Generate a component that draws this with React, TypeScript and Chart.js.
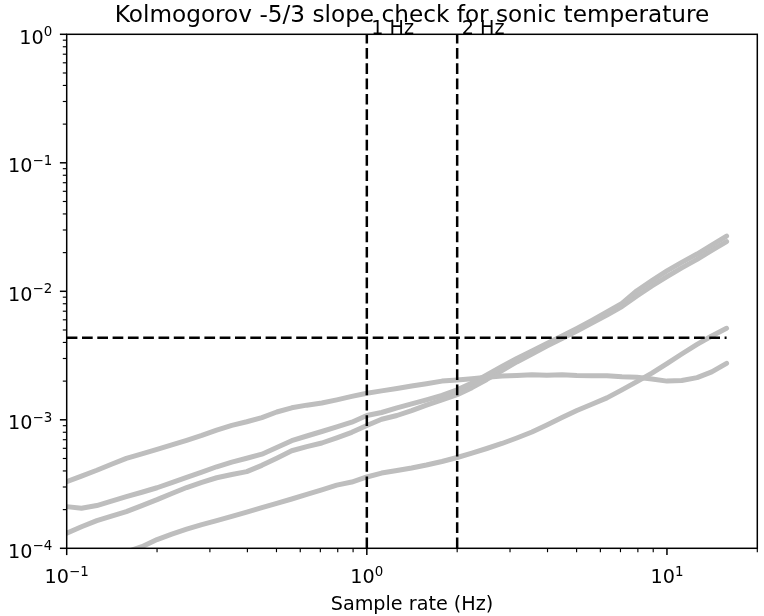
import React, { useEffect, useRef } from 'react';
import { Chart, registerables } from 'chart.js';

Chart.register(...registerables);

// ---------- data ----------
const freqs = [
  0.1, 0.112, 0.126, 0.141, 0.158, 0.178, 0.2, 0.224, 0.251, 0.282,
  0.316, 0.355, 0.398, 0.447, 0.501, 0.562, 0.631, 0.708, 0.794, 0.891,
  1.0, 1.12, 1.26, 1.41, 1.58, 1.78, 2.0, 2.24, 2.51, 2.82,
  3.16, 3.55, 3.98, 4.47, 5.01, 5.62, 6.31, 7.08, 7.94, 8.91,
  10.0, 11.2, 12.6, 14.1, 15.8,
];

const seriesA = [
  3.30e-4, 3.65e-4, 4.05e-4, 4.51e-4, 5.01e-4, 5.43e-4, 5.89e-4, 6.38e-4, 6.92e-4, 7.56e-4,
  8.30e-4, 9.04e-4, 9.66e-4, 1.04e-3, 1.15e-3, 1.24e-3, 1.30e-3, 1.35e-3, 1.43e-3, 1.52e-3,
  1.61e-3, 1.68e-3, 1.75e-3, 1.83e-3, 1.91e-3, 2.00e-3, 2.04e-3, 2.09e-3, 2.14e-3, 2.19e-3,
  2.21e-3, 2.24e-3, 2.22e-3, 2.24e-3, 2.21e-3, 2.20e-3, 2.20e-3, 2.16e-3, 2.14e-3, 2.08e-3,
  2.00e-3, 2.02e-3, 2.13e-3, 2.36e-3, 2.75e-3,
];

const seriesB = [
  2.11e-4, 2.05e-4, 2.15e-4, 2.33e-4, 2.52e-4, 2.73e-4, 2.96e-4, 3.25e-4, 3.57e-4, 3.92e-4,
  4.31e-4, 4.69e-4, 5.02e-4, 5.40e-4, 6.09e-4, 6.88e-4, 7.48e-4, 8.11e-4, 8.80e-4, 9.58e-4,
  1.08e-3, 1.14e-3, 1.24e-3, 1.33e-3, 1.43e-3, 1.55e-3, 1.71e-3, 1.93e-3, 2.23e-3, 2.60e-3,
  3.00e-3, 3.43e-3, 3.93e-3, 4.49e-3, 5.14e-3, 5.93e-3, 6.90e-3, 8.04e-3, 1.01e-2, 1.21e-2,
  1.44e-2, 1.68e-2, 1.95e-2, 2.29e-2, 2.69e-2,
];

const seriesC = [
  1.31e-4, 1.47e-4, 1.64e-4, 1.78e-4, 1.93e-4, 2.15e-4, 2.39e-4, 2.67e-4, 2.97e-4, 3.26e-4,
  3.54e-4, 3.75e-4, 3.95e-4, 4.42e-4, 5.02e-4, 5.74e-4, 6.18e-4, 6.60e-4, 7.24e-4, 7.99e-4,
  9.03e-4, 1.01e-3, 1.08e-3, 1.18e-3, 1.30e-3, 1.43e-3, 1.57e-3, 1.78e-3, 2.06e-3, 2.42e-3,
  2.82e-3, 3.25e-3, 3.75e-3, 4.29e-3, 4.91e-3, 5.67e-3, 6.54e-3, 7.61e-3, 9.19e-3, 1.10e-2,
  1.30e-2, 1.52e-2, 1.77e-2, 2.08e-2, 2.44e-2,
];

const seriesD = [
  6.20e-5, 6.90e-5, 7.68e-5, 8.48e-5, 9.36e-5, 1.03e-4, 1.17e-4, 1.29e-4, 1.41e-4, 1.53e-4,
  1.64e-4, 1.77e-4, 1.91e-4, 2.07e-4, 2.24e-4, 2.42e-4, 2.63e-4, 2.85e-4, 3.10e-4, 3.28e-4,
  3.59e-4, 3.85e-4, 4.03e-4, 4.22e-4, 4.45e-4, 4.74e-4, 5.09e-4, 5.51e-4, 5.98e-4, 6.54e-4,
  7.22e-4, 8.04e-4, 9.11e-4, 1.04e-3, 1.18e-3, 1.32e-3, 1.48e-3, 1.71e-3, 1.98e-3, 2.31e-3,
  2.74e-3, 3.25e-3, 3.86e-3, 4.49e-3, 5.15e-3,
];

const spectra = [seriesA, seriesB, seriesC, seriesD];

const hLineLevel = 4.35e-3;
const vLines = [1, 2];
const vLineLabels = ['1 Hz', '2 Hz'];

const xMin = 0.1;
const xMax = 20;
const yMin = 1e-4;
const yMax = 1;

const xMajorTicks = [0.1, 1, 10];
const xTickExps = ['\u22121', '0', '1'];
const yMajorTicks = [1e-4, 1e-3, 1e-2, 1e-1, 1];
const yTickExps = ['\u22124', '\u22123', '\u22122', '\u22121', '0'];

const titleText = 'Kolmogorov -5/3 slope check for sonic temperature';
const xLabelText = 'Sample rate (Hz)';

// ---------- styling ----------
const FONT = '"DejaVu Sans", sans-serif';
const TICK_PX = 19.2;
const SUP_PX = 13.4;
const SUP_RAISE = 7.7;
const TITLE_PX = 23.2;
const MAJOR_LEN = 6.8;
const MINOR_LEN = 3.9;

function drawPow(ctx: CanvasRenderingContext2D, exp: string, x: number, baseline: number, align: 'center' | 'right') {
  const main = `${TICK_PX}px ${FONT}`;
  const sup = `${SUP_PX}px ${FONT}`;
  ctx.font = main;
  const wb = ctx.measureText('10').width;
  ctx.font = sup;
  const we = ctx.measureText(exp).width;
  const total = wb + we;
  const x0 = align === 'center' ? x - total / 2 : x - total;
  ctx.textAlign = 'left';
  ctx.textBaseline = 'alphabetic';
  ctx.font = main;
  ctx.fillText('10', x0, baseline);
  ctx.font = sup;
  ctx.fillText(exp, x0 + wb, baseline - SUP_RAISE);
}

const mplAxes = {
  id: 'mplAxes',
  afterDraw(chart: any) {
    const ctx: CanvasRenderingContext2D = chart.ctx;
    const { left, top, right, bottom } = chart.chartArea;
    const xs = chart.scales.x;
    const ys = chart.scales.y;
    ctx.save();
    ctx.fillStyle = '#000';
    ctx.strokeStyle = '#000';

    // frame
    ctx.lineWidth = 1.5;
    ctx.strokeRect(left, top, right - left, bottom - top);

    const line = (x1: number, y1: number, x2: number, y2: number, w: number) => {
      ctx.lineWidth = w;
      ctx.beginPath();
      ctx.moveTo(x1, y1);
      ctx.lineTo(x2, y2);
      ctx.stroke();
    };
    // x ticks
    xMajorTicks.forEach((t) => {
      const px = xs.getPixelForValue(t);
      line(px, bottom, px, bottom + MAJOR_LEN, 1.5);
      for (let m = 2; m <= 9; m++) {
        const v = t * m;
        if (v <= xMax * 1.0001) {
          const pm = xs.getPixelForValue(v);
          line(pm, bottom, pm, bottom + MINOR_LEN, 1.15);
        }
      }
    });
    // y ticks
    yMajorTicks.forEach((t) => {
      const py = ys.getPixelForValue(t);
      line(left - MAJOR_LEN, py, left, py, 1.5);
      if (t < yMax) {
        for (let m = 2; m <= 9; m++) {
          const pm = ys.getPixelForValue(t * m);
          line(left - MINOR_LEN, pm, left, pm, 1.15);
        }
      }
    });

    // tick labels
    xMajorTicks.forEach((t, i) => {
      drawPow(ctx, xTickExps[i], xs.getPixelForValue(t), bottom + 35, 'center');
    });
    yMajorTicks.forEach((t, i) => {
      drawPow(ctx, yTickExps[i], left - 14.5, ys.getPixelForValue(t) + 9.5, 'right');
    });

    // vertical line labels
    ctx.font = `${TICK_PX}px ${FONT}`;
    ctx.textAlign = 'left';
    ctx.textBaseline = 'alphabetic';
    vLines.forEach((v, i) => {
      ctx.fillText(vLineLabels[i], xs.getPixelForValue(v * 1.035), ys.getPixelForValue(yMax) - 0.5);
    });

    // title
    ctx.font = `${TITLE_PX}px ${FONT}`;
    ctx.textAlign = 'center';
    ctx.fillText(titleText, (left + right) / 2, 22);

    // x label
    ctx.font = `${TICK_PX}px ${FONT}`;
    ctx.fillText(xLabelText, (left + right) / 2, 610);

    ctx.restore();
  },
};

export default function App() {
  const ref = useRef<HTMLCanvasElement>(null);

  useEffect(() => {
    const canvas = ref.current;
    if (!canvas) return;
    const toPoints = (ys: number[]) => freqs.map((f, i) => ({ x: f, y: ys[i] }));
    const grayStyle = {
      borderColor: '#bebebe',
      backgroundColor: '#bebebe',
      borderWidth: 5,
      pointRadius: 0,
      showLine: true,
      fill: false,
      clip: 0,
      order: 1,
      tension: 0,
      borderJoinStyle: 'round' as const,
      borderCapStyle: 'round' as const,
    };
    const dashStyle = {
      borderColor: '#000000',
      backgroundColor: '#000000',
      borderWidth: 2.5,
      borderDash: [10.7, 4.6],
      pointRadius: 0,
      showLine: true,
      fill: false,
      clip: 0,
      order: 0,
    };
    const chart = new Chart(canvas, {
      type: 'scatter',
      data: {
        datasets: [
          ...spectra.map((s) => ({ ...grayStyle, data: toPoints(s) })),
          {
            ...dashStyle,
            data: [
              { x: freqs[0], y: hLineLevel },
              { x: freqs[freqs.length - 1], y: hLineLevel },
            ],
          },
          ...vLines.map((v) => ({
            ...dashStyle,
            data: [
              { x: v, y: yMin },
              { x: v, y: yMax },
            ],
          })),
        ] as any,
      },
      options: {
        responsive: false,
        animation: false,
        devicePixelRatio: 1,
        events: [],
        layout: { padding: { left: 66.7, top: 34.3, right: 6.7, bottom: 67.7 } },
        scales: {
          x: { type: 'logarithmic', min: xMin, max: xMax, display: false },
          y: { type: 'logarithmic', min: yMin, max: yMax, display: false },
        },
        plugins: {
          legend: { display: false },
          tooltip: { enabled: false },
          title: { display: false },
        },
      } as any,
      plugins: [mplAxes],
    });
    return () => chart.destroy();
  }, []);

  return (
    <div style={{ position: 'fixed', left: 0, top: 0, width: 764, height: 616, background: '#ffffff' }}>
      <canvas ref={ref} width={764} height={616} style={{ display: 'block' }} />
    </div>
  );
}
